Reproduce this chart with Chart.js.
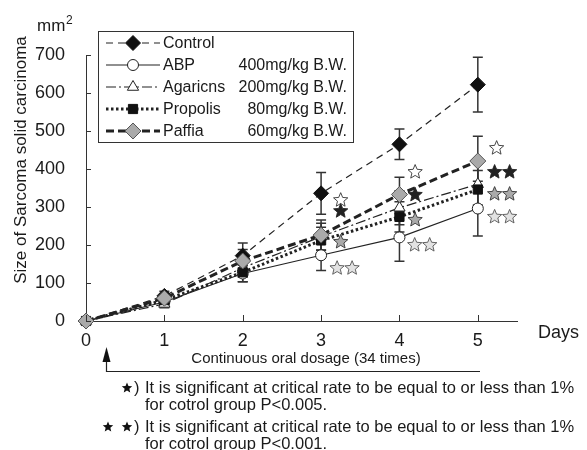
<!DOCTYPE html>
<html>
<head>
<meta charset="utf-8">
<script src="https://cdn.jsdelivr.net/npm/chart.js@4.4.1/dist/chart.umd.min.js"></script>
<style>
  html, body { margin: 0; padding: 0; background: #fff; }
</style>
</head>
<body>
<canvas id="chart" width="587" height="450"></canvas>
<script>
// data
const days = [0, 1, 2, 3, 4, 5];
const xTicks = [0, 1, 2, 3, 4, 5];
const yTicks = [0, 100, 200, 300, 400, 500, 600, 700];

const seriesNames = ['Control', 'ABP', 'Agaricns', 'Propolis', 'Paffia'];
const doses = ['', '400mg/kg B.W.', '200mg/kg B.W.', '80mg/kg B.W.', '60mg/kg B.W.'];

const control     = [0, 66, 172, 336, 465, 622];
const controlErr  = [0, 12, 33, 55, 40, 72];
const abp         = [0, 50, 125, 173, 220, 296];
const abpErr      = [0, 10, 22, 40, 63, 72];
const agaricns    = [0, 45, 140, 222, 298, 360];
const agaricnsErr = [0, 10, 25, 35, 45, 55];
const propolis    = [0, 55, 128, 212, 274, 346];
const propolisErr = [0, 10, 25, 35, 40, 50];
const paffia      = [0, 60, 158, 226, 333, 421];
const paffiaErr   = [0, 12, 30, 40, 45, 65];

// significance stars: [day, value, count, kind]
const starMarks = [
  [3.25, 318, 1, 'open'], [3.25, 289, 1, 'black'], [3.25, 208, 1, 'gray'], [3.30, 139, 2, 'light'],
  [4.20, 392, 1, 'open'], [4.20, 332, 1, 'black'], [4.20, 266, 1, 'gray'], [4.29, 200, 2, 'light'],
  [5.24, 455, 1, 'open'], [5.31, 392, 2, 'black'], [5.31, 334, 2, 'gray'], [5.31, 274, 2, 'light']
];

const FONT = "'Liberation Sans', Arial, sans-serif";
const INK = '#1a1a1a';

function pts(vals) {
  return days.map((d, i) => ({ x: d, y: vals[i] }));
}

const seriesData = [control, abp, agaricns, propolis, paffia];
const seriesErr = [controlErr, abpErr, agaricnsErr, propolisErr, paffiaErr];

const styles = [
  { dash: [7, 5], width: 1.2, point: 'rectRot', radius: 7.5, fill: '#111', stroke: '#111' },
  { dash: [], width: 1.2, point: 'circle', radius: 5.5, fill: '#fff', stroke: '#222' },
  { dash: [10, 3, 2, 3], width: 1.2, point: 'triangle', radius: 6.5, fill: '#fff', stroke: '#222' },
  { dash: [2.5, 2.5], width: 3, point: 'rect', radius: 6.5, fill: '#111', stroke: '#111' },
  { dash: [8, 4], width: 3, point: 'rectRot', radius: 8, fill: '#aaa', stroke: '#555' }
];
const drawOrder = [2, 5, 4, 3, 1]; // paffia on top

function drawStar(ctx, cx, cy, r, fill, stroke) {
  ctx.beginPath();
  for (let i = 0; i < 10; i++) {
    const rad = i % 2 === 0 ? r : r * 0.45;
    const a = -Math.PI / 2 + i * Math.PI / 5;
    const x = cx + rad * Math.cos(a), y = cy + rad * Math.sin(a);
    if (i === 0) ctx.moveTo(x, y); else ctx.lineTo(x, y);
  }
  ctx.closePath();
  ctx.fillStyle = fill;
  ctx.fill();
  if (stroke) {
    ctx.strokeStyle = stroke;
    ctx.lineWidth = 0.9;
    ctx.stroke();
  }
}

const starFill = { open: ['#fff', '#333'], black: ['#222', '#222'], gray: ['#aaa', '#333'], light: ['#e2e2e2', '#555'] };

const errorBars = {
  id: 'errorBars',
  beforeDatasetsDraw(chart) {
    const ctx = chart.ctx;
    const xs = chart.scales.x, ys = chart.scales.y;
    ctx.save();
    ctx.strokeStyle = '#333';
    ctx.lineWidth = 1.5;
    seriesData.forEach((vals, s) => {
      vals.forEach((v, i) => {
        const e = seriesErr[s][i];
        if (!e) return;
        const x = xs.getPixelForValue(days[i]);
        const top = ys.getPixelForValue(v + e), bot = ys.getPixelForValue(v - e);
        ctx.beginPath();
        ctx.moveTo(x, top); ctx.lineTo(x, bot);
        ctx.moveTo(x - 5, top); ctx.lineTo(x + 5, top);
        ctx.moveTo(x - 5, bot); ctx.lineTo(x + 5, bot);
        ctx.stroke();
      });
    });
    ctx.restore();
  }
};

const extras = {
  id: 'extras',
  afterDraw(chart) {
    const ctx = chart.ctx;
    const xs = chart.scales.x, ys = chart.scales.y;
    const area = chart.chartArea;
    ctx.save();

    // inward tick marks
    ctx.strokeStyle = '#333';
    ctx.lineWidth = 1;
    ctx.beginPath();
    yTicks.forEach(v => {
      const y = Math.round(ys.getPixelForValue(v)) + 0.5;
      ctx.moveTo(area.left, y); ctx.lineTo(area.left + 5, y);
    });
    xTicks.forEach(v => {
      const x = Math.round(xs.getPixelForValue(v)) + 0.5;
      ctx.moveTo(x, area.bottom); ctx.lineTo(x, area.bottom - 6);
    });
    ctx.stroke();

    // stars
    starMarks.forEach(([d, v, n, kind]) => {
      const cx = xs.getPixelForValue(d), cy = ys.getPixelForValue(v);
      const [f, s] = starFill[kind];
      for (let k = 0; k < n; k++) {
        drawStar(ctx, cx + (k - (n - 1) / 2) * 15, cy, 7.5, f, s);
      }
    });

    // legend
    ctx.fillStyle = '#fff';
    ctx.fillRect(98.5, 31.5, 255, 111);
    ctx.strokeStyle = '#333';
    ctx.lineWidth = 1;
    ctx.strokeRect(98.5, 31.5, 255, 111);
    ctx.font = '16px ' + FONT;
    ctx.textBaseline = 'middle';
    seriesNames.forEach((name, i) => {
      const st = styles[i];
      const y = 43 + i * 22;
      ctx.save();
      ctx.strokeStyle = '#222';
      ctx.lineWidth = st.width;
      ctx.setLineDash(st.dash);
      ctx.beginPath();
      ctx.moveTo(106, y); ctx.lineTo(160, y);
      ctx.stroke();
      ctx.restore();
      ctx.save();
      ctx.fillStyle = st.fill;
      ctx.strokeStyle = st.stroke;
      ctx.lineWidth = 1;
      Chart.helpers.drawPoint(ctx, { pointStyle: st.point, radius: st.radius, rotation: 0, borderWidth: 1 }, 133, y);
      ctx.restore();
      ctx.fillStyle = INK;
      ctx.textAlign = 'left';
      ctx.fillText(name, 163, y + 1);
      ctx.textAlign = 'right';
      ctx.fillText(doses[i], 347, y + 1);
    });

    // axis labels
    ctx.fillStyle = INK;
    ctx.textAlign = 'left';
    ctx.font = '17px ' + FONT;
    ctx.fillText('mm', 37, 26);
    ctx.font = '12px ' + FONT;
    ctx.fillText('2', 66, 21);
    ctx.font = '18px ' + FONT;
    ctx.fillText('Days', 538, 333);

    ctx.save();
    ctx.translate(21, 160);
    ctx.rotate(-Math.PI / 2);
    ctx.textAlign = 'center';
    ctx.font = '17px ' + FONT;
    ctx.fillText('Size of Sarcoma solid carcinoma', 0, 0);
    ctx.restore();

    // dosage bracket with arrow
    const ax = 106.5;
    ctx.strokeStyle = '#222';
    ctx.lineWidth = 1.2;
    ctx.beginPath();
    ctx.moveTo(ax, 360); ctx.lineTo(ax, 371.5); ctx.lineTo(480, 371.5);
    ctx.stroke();
    ctx.fillStyle = '#111';
    ctx.beginPath();
    ctx.moveTo(ax, 347); ctx.lineTo(ax - 4, 362); ctx.lineTo(ax + 4, 362);
    ctx.closePath();
    ctx.fill();

    ctx.fillStyle = INK;
    ctx.textAlign = 'center';
    ctx.font = '15px ' + FONT;
    ctx.fillText('Continuous oral dosage (34 times)', 306, 359);

    // footnotes
    ctx.textAlign = 'left';
    ctx.font = '16.5px ' + FONT;
    drawStar(ctx, 127, 388, 5.5, '#111');
    ctx.fillStyle = INK;
    ctx.fillText(')', 134, 388);
    ctx.fillText('It is significant at critical rate to be equal to or less than 1%', 145, 388);
    ctx.fillText('for cotrol group P<0.005.', 145, 405);
    drawStar(ctx, 108, 427, 5.5, '#111');
    drawStar(ctx, 127, 427, 5.5, '#111');
    ctx.fillStyle = INK;
    ctx.fillText(')', 134, 427);
    ctx.fillText('It is significant at critical rate to be equal to or less than 1%', 145, 427);
    ctx.fillText('for cotrol group P<0.001.', 145, 444);

    ctx.restore();
  }
};

new Chart(document.getElementById('chart').getContext('2d'), {
  type: 'line',
  data: {
    datasets: seriesNames.map((name, i) => ({
      label: name,
      data: pts(seriesData[i]),
      borderColor: '#222',
      borderWidth: styles[i].width,
      borderDash: styles[i].dash,
      pointStyle: styles[i].point,
      pointRadius: styles[i].radius,
      pointBackgroundColor: styles[i].fill,
      pointBorderColor: styles[i].stroke,
      pointBorderWidth: 1,
      fill: false,
      tension: 0,
      clip: false,
      order: drawOrder[i]
    }))
  },
  options: {
    responsive: false,
    animation: false,
    events: [],
    layout: { padding: { left: 0, top: 55, right: 70, bottom: 99 } },
    plugins: { legend: { display: false }, tooltip: { enabled: false } },
    scales: {
      x: {
        type: 'linear',
        min: 0,
        max: 5.5,
        afterBuildTicks: s => { s.ticks = xTicks.map(v => ({ value: v })); },
        afterFit: s => { s.height = 30; },
        grid: { display: false },
        border: { display: true, color: '#333', width: 1 },
        ticks: { color: INK, font: { family: FONT, size: 18 }, padding: 1, maxRotation: 0 }
      },
      y: {
        min: 0,
        max: 700,
        afterBuildTicks: s => { s.ticks = yTicks.map(v => ({ value: v })); },
        afterFit: s => { s.width = 86; },
        grid: { display: false },
        border: { display: true, color: '#333', width: 1 },
        ticks: { color: INK, font: { family: FONT, size: 18 }, padding: 13 }
      }
    }
  },
  plugins: [errorBars, extras]
});
</script>
</body>
</html>
